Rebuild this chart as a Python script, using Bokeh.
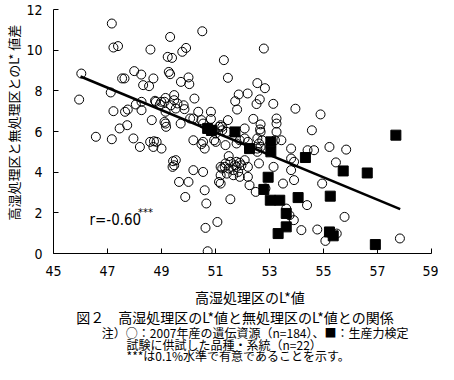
import math
from bokeh.plotting import figure
from bokeh.layouts import column
from bokeh.models import Label, FixedTicker, Range1d, Title
from bokeh.core.properties import value
from bokeh.embed import file_html
from bokeh.resources import INLINE

# ○ 2007年産の遺伝資源
circle_x = [47.16, 47.22, 47.39, 49.32, 48.59, 49.23, 49.39, 49.27, 49.32, 47.99, 48.25, 48.70, 47.54, 47.63,
            48.32, 48.54, 46.03, 45.95, 47.12, 47.22, 47.65, 47.75, 48.05, 48.26, 48.26, 48.64, 48.79, 48.99,
            49.15, 48.94, 49.47, 49.35, 49.15, 49.15, 47.73, 47.45, 49.77, 49.91, 50.51, 51.31, 51.46, 50.00,
            50.03, 49.72, 50.22, 49.82, 50.18, 50.36, 50.83, 50.54, 51.25, 52.79, 52.55, 52.83, 52.19, 51.86,
            51.73, 52.64, 52.52, 53.14, 53.96, 51.80, 49.85, 50.83, 52.40, 52.67, 53.26, 51.46, 52.08, 49.71,
            50.06, 51.19, 48.76, 49.11, 49.47, 49.59, 49.53, 50.48, 49.11, 49.17, 52.65, 53.26, 53.26, 53.44,
            53.20, 51.13, 51.25, 51.42, 51.01, 50.95, 50.18, 50.54, 50.60, 51.37, 51.78, 51.90, 52.08, 52.20,
            52.55, 52.73, 52.67, 52.55, 53.80, 48.82, 48.70, 49.00, 49.53, 49.47, 49.41, 51.49, 51.55, 51.78,
            51.90, 51.96, 51.78, 51.66, 51.49, 51.34, 51.19, 52.20, 52.61, 53.15, 50.18, 50.54, 51.19, 51.42,
            51.66, 51.90, 52.20, 53.80, 49.65, 50.00, 50.60, 49.88, 50.66, 51.55, 51.07, 50.63, 50.71, 51.13,
            51.19, 51.72, 51.84, 52.26, 52.49, 52.85, 52.61, 52.67, 53.80, 53.91, 53.50, 53.91, 53.62, 53.74,
            52.08, 52.55, 54.57, 54.41, 54.65, 55.22, 55.84, 55.46, 54.95, 54.39, 53.90, 55.78, 54.18, 54.77,
            55.49, 55.07, 57.83, 54.89, 46.57, 47.16, 47.96, 48.20, 48.58, 48.72, 49.43, 50.48, 51.01, 51.25,
            51.37]
circle_y = [11.31, 10.13, 10.20, 10.65, 10.03, 9.67, 9.62, 8.93, 8.82, 8.97, 8.80, 8.61, 8.61, 8.61,
            8.28, 8.23, 8.85, 7.57, 7.92, 7.00, 6.97, 7.08, 7.33, 7.46, 7.05, 6.56, 7.46, 7.46,
            7.65, 7.33, 7.79, 7.29, 6.97, 6.39, 6.31, 6.15, 9.92, 10.11, 10.93, 9.51, 8.64, 8.66,
            8.33, 8.44, 7.62, 7.29, 6.64, 6.97, 6.97, 6.39, 6.23, 10.08, 8.38, 8.13, 7.87, 7.82,
            7.49, 7.58, 7.35, 7.36, 7.12, 7.08, 7.10, 6.62, 6.62, 6.35, 6.64, 6.56, 6.15, 6.39,
            6.64, 6.31, 7.51, 7.46, 7.54, 7.38, 7.13, 6.56, 6.47, 6.23, 6.10, 6.39, 5.98, 5.57,
            5.57, 6.23, 6.06, 5.98, 5.90, 5.57, 5.57, 5.49, 5.16, 5.33, 5.41, 5.57, 5.66, 5.49,
            5.66, 5.57, 5.24, 5.16, 5.16, 5.49, 5.24, 5.16, 4.59, 4.34, 4.26, 4.79, 4.51, 4.51,
            4.46, 4.34, 4.26, 4.10, 4.18, 4.26, 4.26, 4.26, 4.43, 4.26, 4.10, 4.01, 3.85, 3.93,
            3.85, 3.77, 3.77, 4.10, 3.52, 3.52, 3.11, 2.78, 2.46, 2.67, 1.55, 1.26, 0.11, 3.52,
            3.44, 4.34, 4.01, 3.36, 3.03, 3.20, 5.41, 5.98, 4.67, 4.51, 3.44, 3.61, 2.21, 1.88,
            4.59, 5.00, 6.06, 5.08, 5.08, 5.24, 5.11, 4.48, 3.44, 2.38, 1.64, 1.80, 1.15, 1.18,
            0.98, 0.62, 0.74, 6.84, 5.74, 5.62, 5.66, 5.24, 5.49, 5.52, 4.54, 5.38, 5.49, 4.18,
            4.43]

# ■ 生産力検定試験に供試した品種・系統
square_x = [50.71, 50.85, 51.72, 52.26, 53.05, 53.05, 52.95, 52.79, 53.03, 53.38, 53.62,
            53.62, 53.32, 57.68, 54.33, 55.73, 56.62, 54.06, 55.25, 55.22, 55.36, 56.92]
square_y = [6.15, 6.05, 5.98, 5.16, 5.49, 5.00, 3.75, 3.15, 2.62, 2.62, 1.97,
            1.31, 0.98, 5.82, 4.72, 4.06, 3.96, 2.75, 2.82, 1.06, 0.87, 0.44]

# regression line
reg_slope = -0.551
reg_intercept = 34.05
reg_x = [46.0, 57.84]
reg_y = [reg_intercept + reg_slope * xv for xv in reg_x]

x_ticks = [45, 47, 49, 51, 53, 55, 57, 59]
y_ticks = [0, 2, 4, 6, 8, 10, 12]

y_title = "高湿処理区と無処理区とのL* 値差"
x_title = "高湿処理区のL*値"
caption = "図２　高湿処理区のL*値と無処理区のL*値との関係"
notes = ["注）○：2007年産の遺伝資源（n=184）、■：生産力検定",
         "試験に供試した品種・系統（n=22）",
         "***は0.1%水準で有意であることを示す。"]
r_text = "r=-0.60"
r_star = "***"

JP = "Noto Sans CJK JP"
NUM = "DejaVu Sans Condensed, Liberation Sans Narrow, Liberation Sans"

W = 438
H_MAIN = 284
H_TEXT = 80
BL, BR = 48, 7

p = figure(width=W, height=H_MAIN, output_backend="svg", toolbar_location=None,
           x_range=Range1d(45, 59), y_range=Range1d(0, 12),
           min_border_left=BL, min_border_right=BR, min_border_top=9, min_border_bottom=31,
           background_fill_color="white", border_fill_color="white")
p.outline_line_color = None
p.grid.visible = False

for ax in (p.xaxis[0], p.yaxis[0]):
    ax.major_tick_in = 5
    ax.major_tick_out = 0
    ax.minor_tick_in = 0
    ax.minor_tick_out = 0
    ax.axis_line_color = "black"
    ax.major_tick_line_color = "black"
    ax.major_label_text_font = NUM
    ax.major_label_text_font_size = "14px"
    ax.major_label_text_color = "black"
p.xaxis[0].ticker = FixedTicker(ticks=x_ticks)
p.yaxis[0].ticker = FixedTicker(ticks=y_ticks)
p.xaxis[0].major_label_standoff = 12
p.yaxis[0].major_label_standoff = 11

p.add_layout(Title(text=y_title, align="left", offset=33, standoff=2,
                   text_font=JP, text_font_size="13px", text_font_style="normal",
                   text_color="black"), "left")

p.scatter(circle_x, circle_y, marker="circle", size=9, fill_color=None,
          line_color="black", line_width=1)
p.line(reg_x, reg_y, line_color="black", line_width=2.5)
p.scatter(square_x, square_y, marker="square", size=10, fill_color="black",
          line_color="black")

p.add_layout(Label(x=46.33, y=1.65, text=r_text, text_font=NUM, text_font_size="15px",
                   text_align="left", text_baseline="middle", text_color="black"))
p.add_layout(Label(x=48.13, y=2.0, text=r_star, text_font=NUM, text_font_size="11px",
                   text_align="left", text_baseline="middle", text_color="black"))

# text panel under the chart: frame aligned with the chart's frame,
# x and y expressed in page pixels (y runs downward)
t = figure(width=W, height=H_TEXT, output_backend="svg", toolbar_location=None,
           x_range=Range1d(BL, W - BR), y_range=Range1d(H_MAIN + H_TEXT, H_MAIN),
           min_border_left=BL, min_border_right=BR, min_border_top=0, min_border_bottom=0,
           x_axis_type=None, y_axis_type=None,
           background_fill_color="white", border_fill_color="white")
t.outline_line_color = None
t.grid.visible = False

t.text(x=[247], y=[296], text=[x_title], text_font=value(JP), text_font_size="14px",
       text_align="center", text_baseline="middle", text_color="black")
t.text(x=[232], y=[316], text=[caption], text_font=value(JP), text_font_size="14px",
       text_align="center", text_baseline="middle", text_color="black")
t.text(x=[97, 122, 122], y=[332, 343.5, 354.5], text=notes, text_font=value(JP),
       text_font_size="12px", text_align="left", text_baseline="middle", text_color="black")

layout = column(p, t, spacing=0)
open("out.html", "w").write(file_html(layout, INLINE))
